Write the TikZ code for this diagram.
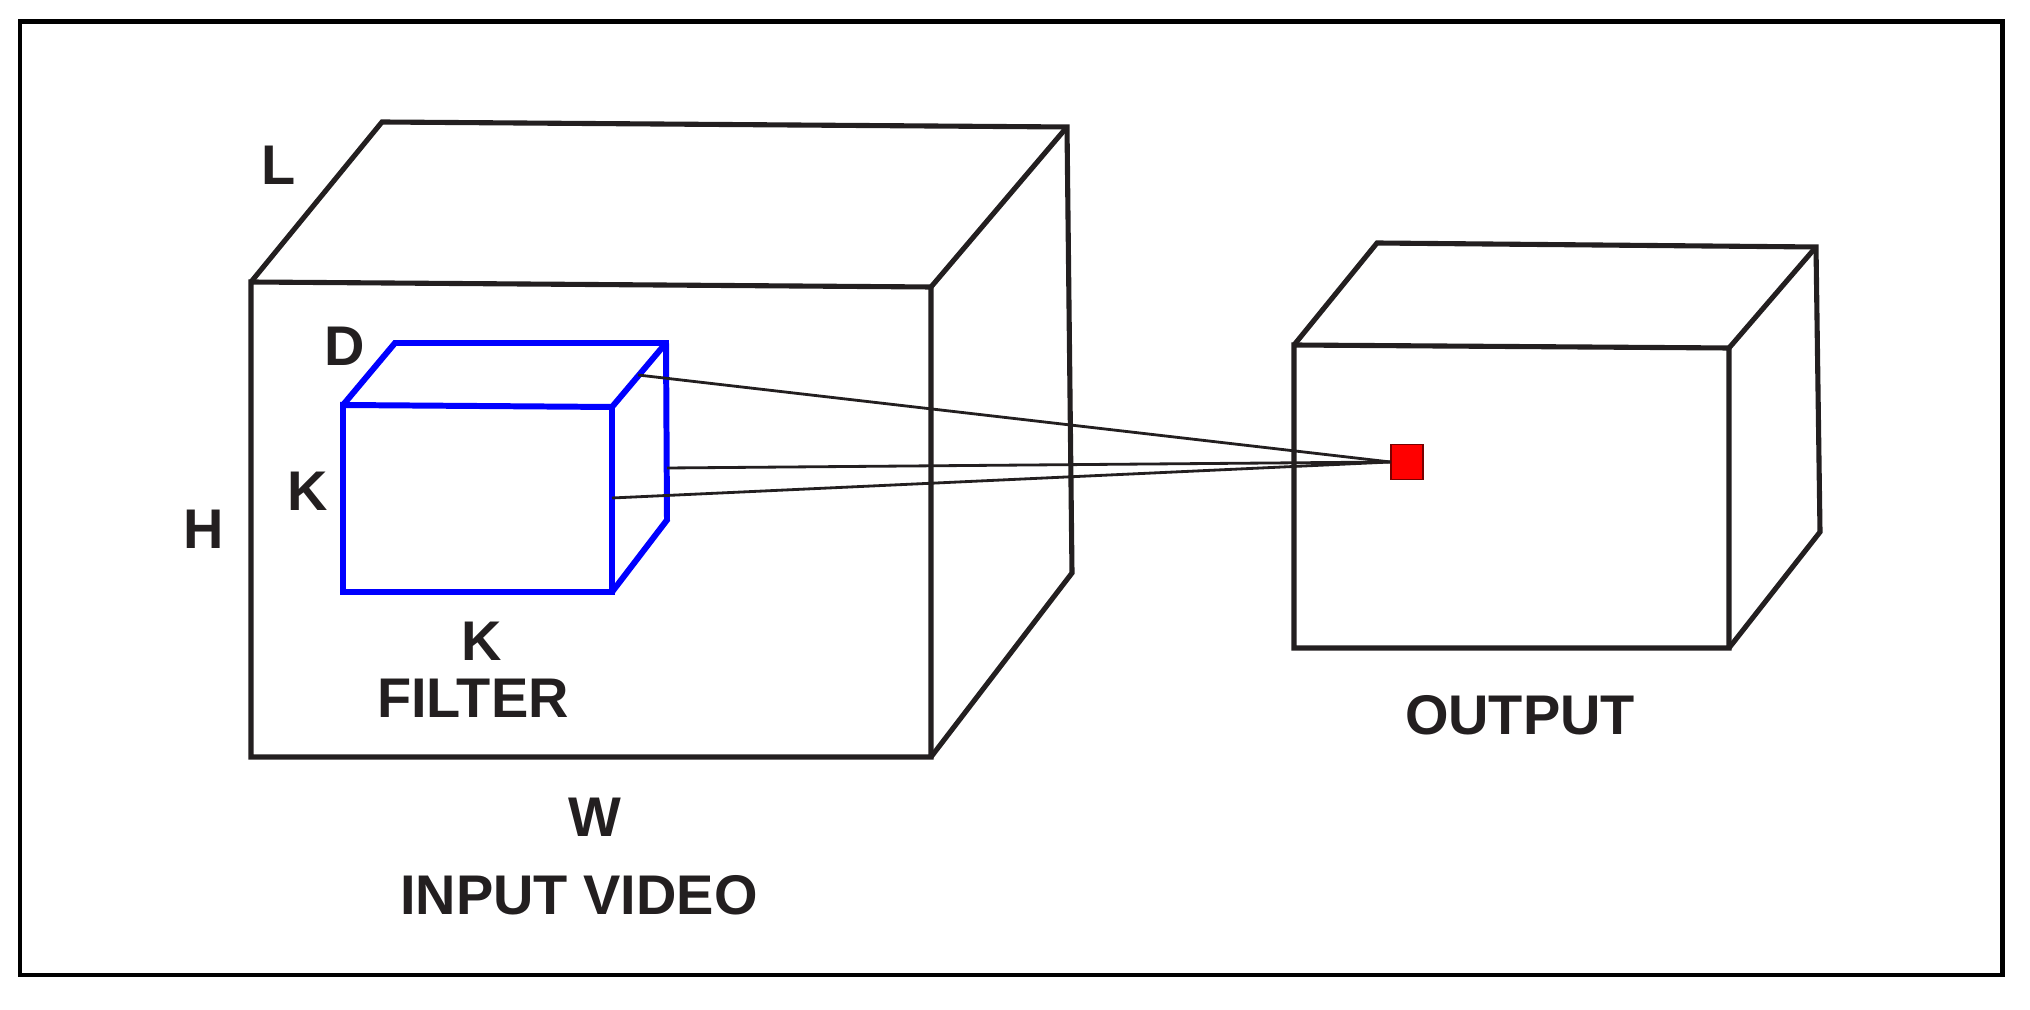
\documentclass[tikz,border=0pt]{standalone}
\usepackage{fontspec}
\setmainfont{Liberation Sans}
\definecolor{ink}{HTML}{231F20}
\definecolor{filterblue}{RGB}{0,0,255}
\definecolor{pixred}{RGB}{255,0,0}
\definecolor{pixedge}{RGB}{120,0,0}
\begin{document}
\begin{tikzpicture}[x=0.01cm,y=-0.01cm,
  cubeline/.style={draw=ink,line width=1.45pt,line join=miter},
  filterline/.style={draw=filterblue,line width=1.7pt,line join=miter},
  rayline/.style={draw=ink,line width=0.8pt},
  lbl/.style={text=ink,font=\fontsize{15.9}{19}\selectfont\bfseries,inner sep=0pt},
  pixel/.style={fill=pixred,draw=pixedge,line width=0.35pt,minimum width=0.32cm,minimum height=0.35cm,inner sep=0pt}]
\useasboundingbox (0,0) rectangle (2030,1010);
\draw[draw=black,line width=1.42pt] (20,22) rectangle (2002,975);

% input video cube
\coordinate (iFTL) at (251,282);
\coordinate (iFTR) at (931,287);
\coordinate (iFBR) at (931,757);
\coordinate (iFBL) at (251,757);
\coordinate (iBTL) at (382,122);
\coordinate (iBTR) at (1067,127);
\coordinate (iBBR) at (1072,573);
\draw[cubeline] (iFTL) -- (iFTR) -- (iFBR) -- (iFBL) -- cycle;
\draw[cubeline] (iFTL) -- (iBTL) -- (iBTR) -- (iBBR) -- (iFBR);
\draw[cubeline] (iFTR) -- (iBTR);

% filter cube
\coordinate (fFTL) at (343,405);
\coordinate (fFTR) at (612,407);
\coordinate (fFBR) at (612,592);
\coordinate (fFBL) at (343,592);
\coordinate (fBTL) at (395,343);
\coordinate (fBTR) at (666,343);
\coordinate (fBBR) at (667,520);
\draw[filterline] (fFTL) -- (fFTR) -- (fFBR) -- (fFBL) -- cycle;
\draw[filterline] (fFTL) -- (fBTL) -- (fBTR) -- (fBBR) -- (fFBR);
\draw[filterline] (fFTR) -- (fBTR);

% output cube
\coordinate (oFTL) at (1294,345);
\coordinate (oFTR) at (1729,348);
\coordinate (oFBR) at (1729,648);
\coordinate (oFBL) at (1294,648);
\coordinate (oBTL) at (1377,243);
\coordinate (oBTR) at (1816,247);
\coordinate (oBBR) at (1820,532);
\draw[cubeline] (oFTL) -- (oFTR) -- (oFBR) -- (oFBL) -- cycle;
\draw[cubeline] (oFTL) -- (oBTL) -- (oBTR) -- (oBBR) -- (oFBR);
\draw[cubeline] (oFTR) -- (oBTR);

% output pixel and rays
\node[pixel] (px) at (1407,462) {};
\coordinate (r1) at (638,375);
\coordinate (r2) at (667,468);
\coordinate (r3) at (612,498);
\draw[rayline] (r1) -- (px.west);
\draw[rayline] (r2) -- (px.west);
\draw[rayline] (r3) -- (px.west);

% labels
\node[lbl] (tL) at (279,165) {L};
\node[lbl] (tD) at (345,346) {D};
\node[lbl] (tK1) at (308,491) {K};
\node[lbl] (tH) at (204,529) {H};
\node[lbl] (tK2) at (482,641) {K};
\node[lbl] (tF) at (473,698) {FILTER};
\node[lbl] (tW) at (595,817) {W};
\node[lbl] (tIV) at (579,895) {INPUT VIDEO};
\node[lbl] (tO) at (1520,715) {OUTPUT};
\end{tikzpicture}
\end{document}
